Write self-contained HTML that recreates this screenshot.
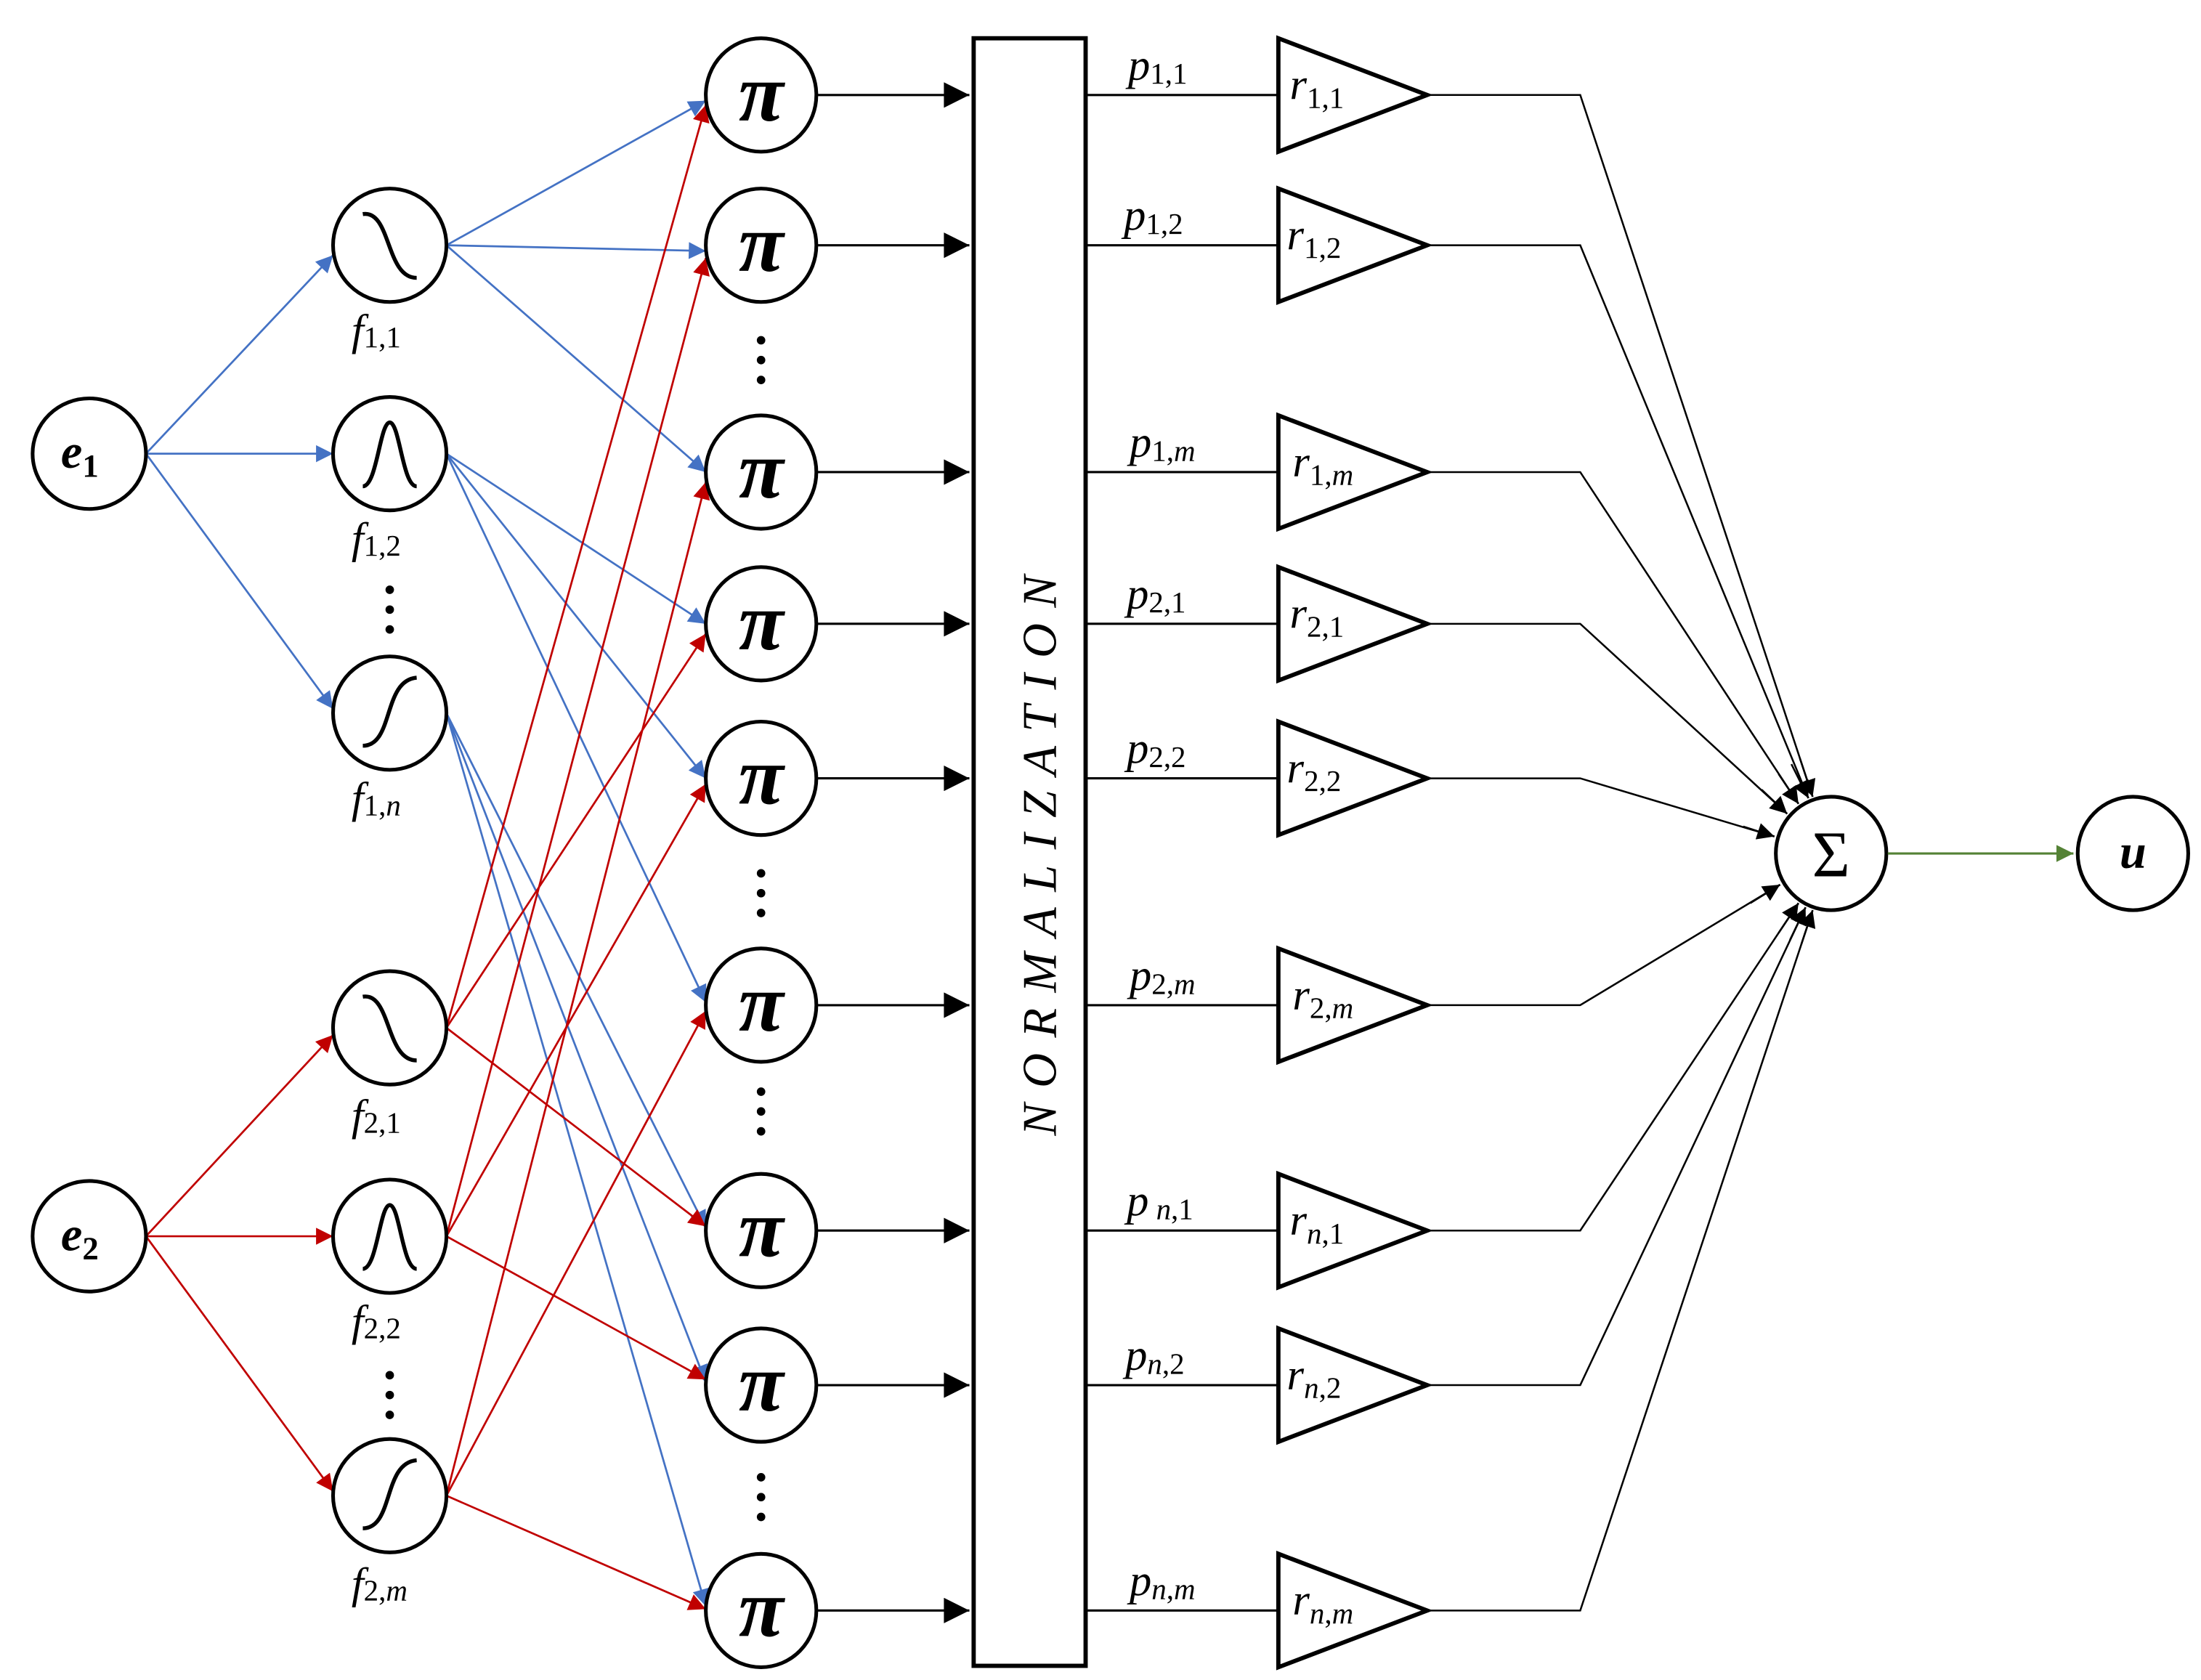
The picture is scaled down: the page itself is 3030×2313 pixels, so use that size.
<!DOCTYPE html>
<html><head><meta charset="utf-8"><style>
html,body{margin:0;padding:0;background:#fff;}
svg{display:block;}
text{font-family:"Liberation Serif",serif;}
.lab{font-style:italic;font-size:31px;}
.sub{font-size:21px;font-style:normal;}
.pi{font-size:58px;font-style:italic;font-weight:bold;}
</style></head><body>
<svg width="3030" height="2313" viewBox="0 0 1553 1185" preserveAspectRatio="none" xmlns="http://www.w3.org/2000/svg">
<defs>
<marker id="ab" viewBox="0 0 10 10" refX="10" refY="5" markerWidth="14" markerHeight="12" markerUnits="userSpaceOnUse" orient="auto"><path d="M0,0L10,5L0,10z" fill="#4472c4"/></marker>
<marker id="ar" viewBox="0 0 10 10" refX="10" refY="5" markerWidth="14" markerHeight="12" markerUnits="userSpaceOnUse" orient="auto"><path d="M0,0L10,5L0,10z" fill="#c00000"/></marker>
<marker id="ak" viewBox="0 0 10 10" refX="10" refY="5" markerWidth="20" markerHeight="18" markerUnits="userSpaceOnUse" orient="auto"><path d="M0,0L10,5L0,10z" fill="#000"/></marker>
<marker id="ak2" viewBox="0 0 10 10" refX="10" refY="5" markerWidth="14" markerHeight="12" markerUnits="userSpaceOnUse" orient="auto"><path d="M0,0L10,5L0,10z" fill="#000"/></marker>
<marker id="ag" viewBox="0 0 10 10" refX="10" refY="5" markerWidth="16" markerHeight="12" markerUnits="userSpaceOnUse" orient="auto"><path d="M0,0L10,5L0,10z" fill="#548235"/></marker>
</defs>

<!-- blue edges -->
<g stroke="#4472c4" stroke-width="1.4" fill="none" marker-end="url(#ab)">
<line x1="103" y1="320" x2="235" y2="180"/>
<line x1="103" y1="320" x2="235" y2="320"/>
<line x1="103" y1="320" x2="235" y2="500"/>
<line x1="315" y1="173" x2="498" y2="71"/>
<line x1="315" y1="173" x2="498" y2="177"/>
<line x1="315" y1="173" x2="498" y2="333"/>
<line x1="315" y1="320" x2="498" y2="440"/>
<line x1="315" y1="320" x2="498" y2="549"/>
<line x1="315" y1="320" x2="498" y2="707"/>
<line x1="315" y1="503" x2="498" y2="866"/>
<line x1="315" y1="503" x2="498" y2="975"/>
<line x1="315" y1="503" x2="498" y2="1133"/>
</g>
<!-- red edges -->
<g stroke="#c00000" stroke-width="1.4" fill="none" marker-end="url(#ar)">
<line x1="103" y1="872" x2="235" y2="730"/>
<line x1="103" y1="872" x2="235" y2="872"/>
<line x1="103" y1="872" x2="235" y2="1052"/>
<line x1="315" y1="725" x2="498" y2="74"/>
<line x1="315" y1="725" x2="498" y2="447"/>
<line x1="315" y1="725" x2="498" y2="865"/>
<line x1="315" y1="872" x2="498" y2="182"/>
<line x1="315" y1="872" x2="498" y2="553"/>
<line x1="315" y1="872" x2="498" y2="973"/>
<line x1="315" y1="1055" x2="498" y2="340"/>
<line x1="315" y1="1055" x2="498" y2="713"/>
<line x1="315" y1="1055" x2="498" y2="1135"/>
</g>

<!-- e nodes -->
<g stroke="#000" stroke-width="2.6" fill="#fff">
<ellipse cx="63" cy="320" rx="40" ry="39"/>
<ellipse cx="63" cy="872" rx="40" ry="39"/>
</g>
<text x="43" y="330" style="font-style:italic;font-weight:bold;font-size:34px">e<tspan style="font-size:23px;font-style:normal" dy="6">1</tspan></text>
<text x="43" y="882" style="font-style:italic;font-weight:bold;font-size:34px">e<tspan style="font-size:23px;font-style:normal" dy="6">2</tspan></text>

<!-- f nodes -->
<g stroke="#000" stroke-width="2.6" fill="#fff">
<ellipse cx="275" cy="173" rx="40" ry="40"/>
<ellipse cx="275" cy="320" rx="40" ry="40"/>
<ellipse cx="275" cy="503" rx="40" ry="40"/>
<ellipse cx="275" cy="725" rx="40" ry="40"/>
<ellipse cx="275" cy="872" rx="40" ry="40"/>
<ellipse cx="275" cy="1055" rx="40" ry="40"/>
</g>
<g stroke="#000" stroke-width="2.8" fill="none">
<path d="M256,151 C276,148 272,196 294,196"/>
<path d="M256,343 C266,343 268,298 275,298 C282,298 284,343 294,343"/>
<path d="M256,526 C278,526 270,480 294,478"/>
<path d="M256,703 C276,700 272,748 294,748"/>
<path d="M256,895 C266,895 268,850 275,850 C282,850 284,895 294,895"/>
<path d="M256,1078 C278,1078 270,1032 294,1030"/>
</g>
<g class="lab">
<text x="248" y="243">f<tspan class="sub" dy="2">1,1</tspan></text>
<text x="248" y="390">f<tspan class="sub" dy="2">1,2</tspan></text>
<text x="248" y="573">f<tspan class="sub" dy="2">1,<tspan font-style="italic">n</tspan></tspan></text>
<text x="248" y="797">f<tspan class="sub" dy="2">2,1</tspan></text>
<text x="248" y="942">f<tspan class="sub" dy="2">2,2</tspan></text>
<text x="248" y="1127">f<tspan class="sub" dy="2">2,<tspan font-style="italic">m</tspan></tspan></text>
</g>
<!-- dots -->
<g fill="#000">
<circle cx="275" cy="416" r="3"/><circle cx="275" cy="430" r="3"/><circle cx="275" cy="444" r="3"/>
<circle cx="275" cy="970" r="3"/><circle cx="275" cy="984" r="3"/><circle cx="275" cy="998" r="3"/>
<circle cx="537" cy="240" r="3"/><circle cx="537" cy="254" r="3"/><circle cx="537" cy="268" r="3"/>
<circle cx="537" cy="616" r="3"/><circle cx="537" cy="630" r="3"/><circle cx="537" cy="644" r="3"/>
<circle cx="537" cy="770" r="3"/><circle cx="537" cy="784" r="3"/><circle cx="537" cy="798" r="3"/>
<circle cx="537" cy="1042" r="3"/><circle cx="537" cy="1056" r="3"/><circle cx="537" cy="1070" r="3"/>
</g>

<!-- pi nodes -->
<g id="pis">
<g stroke="#000" stroke-width="2.6" fill="#fff">
<ellipse cx="537" cy="67" rx="39" ry="40"/>
<ellipse cx="537" cy="173" rx="39" ry="40"/>
<ellipse cx="537" cy="333" rx="39" ry="40"/>
<ellipse cx="537" cy="440" rx="39" ry="40"/>
<ellipse cx="537" cy="549" rx="39" ry="40"/>
<ellipse cx="537" cy="709" rx="39" ry="40"/>
<ellipse cx="537" cy="868" rx="39" ry="40"/>
<ellipse cx="537" cy="977" rx="39" ry="40"/>
<ellipse cx="537" cy="1136" rx="39" ry="40"/>
</g>
<g class="pi" text-anchor="middle">
<text x="537" y="85">π</text><text x="537" y="191">π</text><text x="537" y="351">π</text>
<text x="537" y="458">π</text><text x="537" y="567">π</text><text x="537" y="727">π</text>
<text x="537" y="886">π</text><text x="537" y="995">π</text><text x="537" y="1154">π</text>
</g>
</g>
<!-- pi to normalization -->
<g stroke="#000" stroke-width="1.6" marker-end="url(#ak)">
<line x1="577" y1="67" x2="684" y2="67"/><line x1="577" y1="173" x2="684" y2="173"/>
<line x1="577" y1="333" x2="684" y2="333"/><line x1="577" y1="440" x2="684" y2="440"/>
<line x1="577" y1="549" x2="684" y2="549"/><line x1="577" y1="709" x2="684" y2="709"/>
<line x1="577" y1="868" x2="684" y2="868"/><line x1="577" y1="977" x2="684" y2="977"/>
<line x1="577" y1="1136" x2="684" y2="1136"/>
</g>
<rect x="687" y="27" width="79" height="1148" fill="#fff" stroke="#000" stroke-width="3"/>
<text transform="translate(745,598) rotate(-90)" text-anchor="middle" style="font-style:italic;font-size:34px;letter-spacing:11px">NORMALIZATION</text>

<!-- p lines and triangles -->
<g stroke="#000" stroke-width="1.6" fill="none">
<path d="M766,67H901M766,173H901M766,333H901M766,440H901M766,549H901M766,709H901M766,868H901M766,977H901M766,1136H901"/>
<path d="M1008,67H1115L1279,562M1008,173H1115L1276,563M1008,333H1115L1269,567M1008,440H1115L1261,574M1008,549H1115L1252,590M1008,709H1115L1256,624M1008,868H1115L1269,637M1008,977H1115L1274,640M1008,1136H1115L1279,642" stroke-width="1.3"/>
</g>
<g stroke="#000" stroke-width="1.3" fill="none" marker-end="url(#ak2)">
<line x1="1270" y1="535" x2="1279" y2="562"/>
<line x1="1264" y1="539" x2="1276" y2="563"/>
<line x1="1255" y1="546" x2="1269" y2="567"/>
<line x1="1243" y1="557" x2="1261" y2="574"/>
<line x1="1230" y1="583" x2="1252" y2="590"/>
<line x1="1235" y1="637" x2="1256" y2="624"/>
<line x1="1255" y1="658" x2="1269" y2="637"/>
<line x1="1263" y1="663" x2="1274" y2="640"/>
<line x1="1271" y1="666" x2="1279" y2="642"/>
</g>
<g stroke="#000" stroke-width="3" fill="#fff">
<path d="M902,27L1007,67L902,107Z"/>
<path d="M902,133L1007,173L902,213Z"/>
<path d="M902,293L1007,333L902,373Z"/>
<path d="M902,400L1007,440L902,480Z"/>
<path d="M902,509L1007,549L902,589Z"/>
<path d="M902,669L1007,709L902,749Z"/>
<path d="M902,828L1007,868L902,908Z"/>
<path d="M902,937L1007,977L902,1017Z"/>
<path d="M902,1096L1007,1136L902,1176Z"/>
</g>
<g class="lab">
<text x="796" y="56">p<tspan class="sub" dy="3">1,1</tspan></text>
<text x="793" y="162">p<tspan class="sub" dy="3">1,2</tspan></text>
<text x="797" y="322">p<tspan class="sub" dy="3">1,<tspan font-style="italic">m</tspan></tspan></text>
<text x="795" y="429">p<tspan class="sub" dy="3">2,1</tspan></text>
<text x="795" y="538">p<tspan class="sub" dy="3">2,2</tspan></text>
<text x="797" y="698">p<tspan class="sub" dy="3">2,<tspan font-style="italic">m</tspan></tspan></text>
<text x="795" y="857">p<tspan class="sub" dy="3">
<tspan font-style="italic">n</tspan>,1</tspan></text>
<text x="794" y="966">p<tspan class="sub" dy="3"><tspan font-style="italic">n</tspan>,2</tspan></text>
<text x="797" y="1125">p<tspan class="sub" dy="3"><tspan font-style="italic">n</tspan>,<tspan font-style="italic">m</tspan></tspan></text>

<text x="910" y="70">r<tspan class="sub" dy="6">1,1</tspan></text>
<text x="908" y="176">r<tspan class="sub" dy="6">1,2</tspan></text>
<text x="912" y="336">r<tspan class="sub" dy="6">1,<tspan font-style="italic">m</tspan></tspan></text>
<text x="910" y="443">r<tspan class="sub" dy="6">2,1</tspan></text>
<text x="908" y="552">r<tspan class="sub" dy="6">2,2</tspan></text>
<text x="912" y="712">r<tspan class="sub" dy="6">2,<tspan font-style="italic">m</tspan></tspan></text>
<text x="910" y="871">r<tspan class="sub" dy="6"><tspan font-style="italic">n</tspan>,1</tspan></text>
<text x="908" y="980">r<tspan class="sub" dy="6"><tspan font-style="italic">n</tspan>,2</tspan></text>
<text x="912" y="1139">r<tspan class="sub" dy="6"><tspan font-style="italic">n</tspan>,<tspan font-style="italic">m</tspan></tspan></text>
</g>

<!-- sum and output -->
<ellipse cx="1292" cy="602" rx="39" ry="40" fill="#fff" stroke="#000" stroke-width="2.6"/>
<text x="1292" y="618" text-anchor="middle" style="font-size:46px">Σ</text>
<line x1="1332" y1="602" x2="1463" y2="602" stroke="#548235" stroke-width="1.6" marker-end="url(#ag)"/>
<ellipse cx="1505" cy="602" rx="39" ry="40" fill="#fff" stroke="#000" stroke-width="2.6"/>
<text x="1505" y="612" text-anchor="middle" style="font-style:italic;font-weight:bold;font-size:34px">u</text>
</svg>
</body></html>
